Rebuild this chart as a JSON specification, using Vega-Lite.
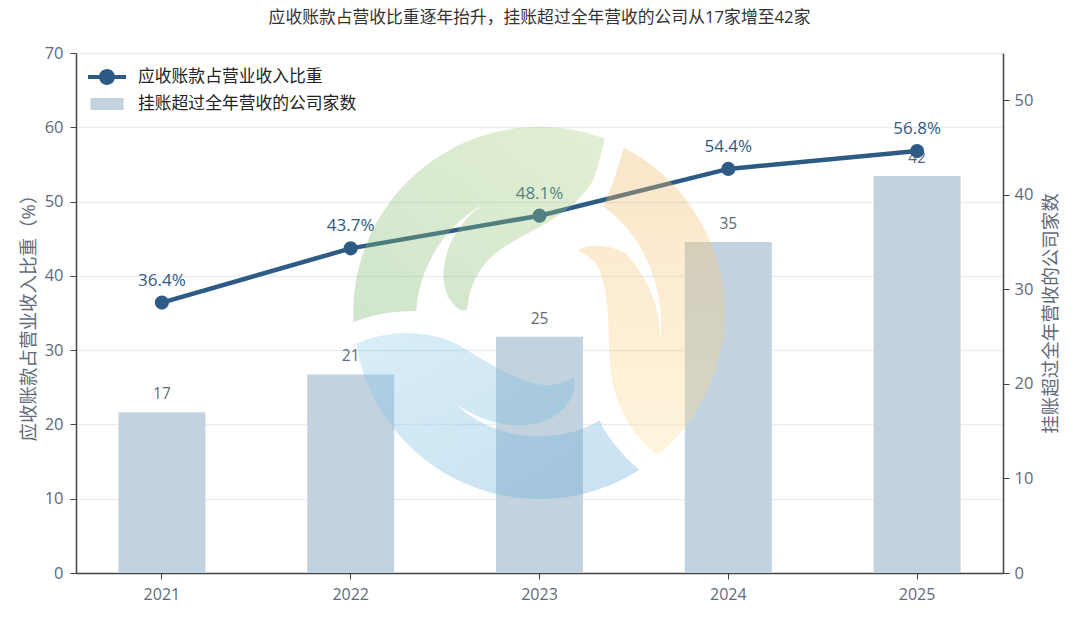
{
  "$schema": "https://vega.github.io/schema/vega-lite/v6.json",
  "description": "应收账款占营业收入比重与挂账超过全年营收的公司家数",
  "width": 927,
  "height": 520,
  "autosize": {"type": "none"},
  "padding": {"left": 76, "top": 53, "right": 77, "bottom": 52},
  "background": "white",
  "title": {
    "text": "应收账款占营收比重逐年抬升，挂账超过全年营收的公司从17家增至42家",
    "anchor": "middle",
    "fontSize": 16.8,
    "fontWeight": "normal",
    "color": "#333333",
    "offset": 18
  },
  "data": {
    "values": [
      {"year": "2021", "ratio": 36.4, "ratio_label": "36.4%", "companies": 17},
      {"year": "2022", "ratio": 43.7, "ratio_label": "43.7%", "companies": 21},
      {"year": "2023", "ratio": 48.1, "ratio_label": "48.1%", "companies": 25},
      {"year": "2024", "ratio": 54.4, "ratio_label": "54.4%", "companies": 35},
      {"year": "2025", "ratio": 56.8, "ratio_label": "56.8%", "companies": 42}
    ]
  },
  "encoding": {
    "x": {
      "field": "year",
      "type": "ordinal",
      "scale": {"paddingInner": 0.54, "paddingOuter": 0.225},
      "axis": {"title": null, "labelAngle": 0, "labelFontSize": 16, "labelPadding": 7, "tickSize": 6, "grid": false}
    }
  },
  "layer": [
    {
      "encoding": {
        "y": {
          "field": "companies",
          "type": "quantitative",
          "scale": {"domain": [0, 55]},
          "axis": {
            "orient": "right",
            "title": "挂账超过全年营收的公司家数",
            "titleFontSize": 18.5,
            "titleAngle": 270,
            "titlePadding": 28,
            "values": [0, 10, 20, 30, 40, 50],
            "grid": false,
            "labelFontSize": 16.5,
            "labelPadding": 5,
            "tickSize": 6
          }
        }
      },
      "layer": [
        {
          "mark": {"type": "bar", "width": 87},
          "encoding": {
            "color": {
              "datum": "挂账超过全年营收的公司家数",
              "scale": {"range": ["#c2d2df"]},
              "legend": {
                "title": null,
                "orient": "none",
                "legendX": 14.5,
                "legendY": 34.5,
                "padding": 0,
                "symbolType": "M-1,-0.36H1V0.36H-1Z",
                "symbolSize": 1089,
                "symbolStrokeWidth": 0,
                "labelOffset": 14.5,
                "labelFontSize": 16.8,
                "labelLimit": 400,
                "labelColor": "#222222"
              }
            }
          }
        },
        {
          "mark": {"type": "text", "dy": -18, "fontSize": 15.5, "color": "#5f6b7a"},
          "encoding": {"text": {"field": "companies", "type": "quantitative"}}
        }
      ]
    },
    {
      "encoding": {
        "y": {
          "field": "ratio",
          "type": "quantitative",
          "scale": {"domain": [0, 70]},
          "axis": {
            "orient": "left",
            "title": "应收账款占营业收入比重（%）",
            "titleFontSize": 18.5,
            "titlePadding": 6,
            "values": [0, 10, 20, 30, 40, 50, 60, 70],
            "grid": true,
            "labelFontSize": 16.5,
            "labelPadding": 7,
            "tickSize": 6
          }
        }
      },
      "layer": [
        {
          "mark": {"type": "line", "stroke": "#2d5b85", "strokeWidth": 4.5},
          "encoding": {}
        },
        {
          "mark": {"type": "point", "filled": true, "size": 200, "opacity": 1},
          "encoding": {
            "color": {
              "datum": "应收账款占营业收入比重",
              "scale": {"range": ["#2d5b85"]},
              "legend": {
                "title": null,
                "orient": "none",
                "legendX": 12,
                "legendY": 5,
                "padding": 0,
                "symbolType": "M-1,-0.1H1V0.1H-1Z M-0.42,0A0.42,0.42 0 1 1 0.42,0A0.42,0.42 0 1 1 -0.42,0Z",
                "symbolSize": 1444,
                "symbolStrokeWidth": 0,
                "symbolOpacity": 1,
                "labelOffset": 12,
                "labelFontSize": 16.8,
                "labelLimit": 400,
                "labelColor": "#222222"
              }
            }
          }
        },
        {
          "mark": {"type": "text", "dy": -22, "fontSize": 17, "color": "#2d5b85"},
          "encoding": {"text": {"field": "ratio_label", "type": "nominal"}}
        },
        {
          "data": {"values": [{"year": "2023", "ratio": 35}]},
          "mark": {
            "type": "point",
            "filled": true,
            "size": 0.4444,
            "opacity": 0.35,
            "strokeWidth": 0,
            "shape": "M195,-523 A558,558 0 0 0 -558,27 Q-470,-8 -370,-6 C-360,-158 -260,-298 -110,-353 C-180,-338 -290,-238 -288,-108 C-288,-60 -260,-20 -235,-8 Q-215,-2 -215,-25 C-205,-108 -160,-168 -90,-208 C20,-268 120,-318 160,-398 C180,-450 190,-490 195,-523 Z",
            "fill": {
              "gradient": "linear",
              "x1": 1, "y1": 0, "x2": 0, "y2": 1,
              "stops": [{"offset": 0, "color": "#afd181"}, {"offset": 1, "color": "#76b56d"}]
            }
          }
        },
        {
          "data": {"values": [{"year": "2023", "ratio": 35}]},
          "mark": {
            "type": "point",
            "filled": true,
            "size": 0.4444,
            "opacity": 0.35,
            "strokeWidth": 0,
            "shape": "M253,-496 A557,557 0 0 1 355,427 C280,372 215,272 210,132 C205,32 210,-48 180,-128 C160,-170 135,-175 115,-185 C125,-205 200,-213 260,-178 C330,-98 365,-8 362,82 C375,-8 350,-208 190,-320 C220,-378 235,-438 253,-496 Z",
            "fill": {
              "gradient": "linear",
              "x1": 0, "y1": 0, "x2": 0, "y2": 1,
              "stops": [{"offset": 0, "color": "#f1b765"}, {"offset": 1, "color": "#fce29b"}]
            }
          }
        },
        {
          "data": {"values": [{"year": "2023", "ratio": 35}]},
          "mark": {
            "type": "point",
            "filled": true,
            "size": 0.4444,
            "opacity": 0.35,
            "strokeWidth": 0,
            "shape": "M-550,92 C-470,57 -360,42 -250,92 C-150,150 -60,212 20,217 C50,217 85,205 105,192 C112,260 60,335 -60,337 C-130,338 -200,310 -255,270 C-180,342 -80,372 0,370 C90,367 140,347 180,322 C200,367 250,432 300,470 A557,557 0 0 1 -550,92 Z",
            "fill": {
              "gradient": "linear",
              "x1": 0, "y1": 0, "x2": 1, "y2": 1,
              "stops": [{"offset": 0, "color": "#8fcfeb"}, {"offset": 1, "color": "#62a7d4"}]
            }
          }
        }
      ]
    }
  ],
  "resolve": {"scale": {"y": "independent", "color": "independent"}},
  "config": {
    "font": "Open Sans, Noto Sans CJK SC",
    "view": {"stroke": null},
    "axis": {
      "domainColor": "#444444",
      "domainWidth": 1.5,
      "tickColor": "#444444",
      "tickWidth": 1,
      "labelColor": "#5f6b7a",
      "titleColor": "#5f6b7a",
      "titleFontWeight": "normal",
      "gridColor": "#e9edf3",
      "gridWidth": 1.5
    }
  }
}
